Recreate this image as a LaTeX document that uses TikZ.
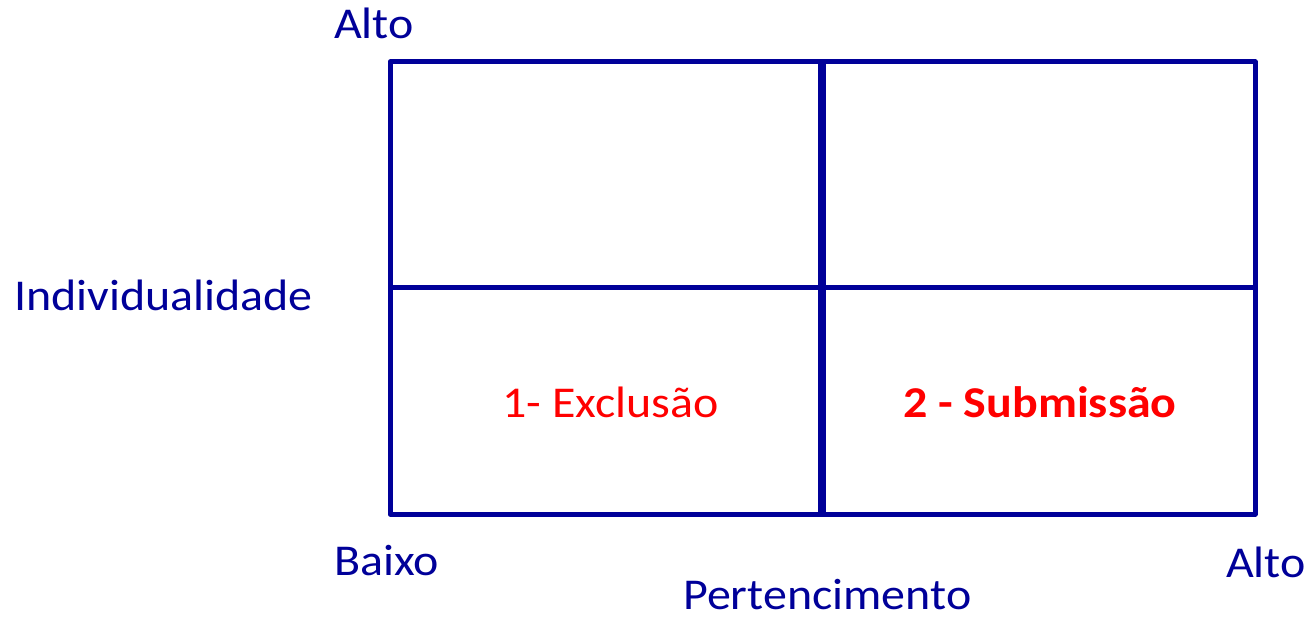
\documentclass[tikz,border=0pt]{standalone}
\usepackage{fontspec}
\setmainfont{Carlito}
\definecolor{nblue}{HTML}{000099}
\definecolor{nred}{HTML}{FF0000}
\newcommand{\wide}[1]{\scalebox{1.09}[1]{#1}}
\begin{document}
\begin{tikzpicture}[x=1pt,y=-1pt,
  lbl/.style={inner sep=0pt,anchor=base west,text=nblue,font=\fontsize{44}{50}\selectfont},
  cell/.style={inner sep=0pt,anchor=base west,text=nred,font=\fontsize{44}{50}\selectfont},
  grid/.style={draw=nblue,line width=5pt}]
\useasboundingbox (0,0) rectangle (1308,617);
\coordinate (tl) at (390,62);
\coordinate (br) at (1255,514);
\coordinate (mt) at (822,62);
\coordinate (mb) at (822,514);
\coordinate (ml) at (390,288);
\coordinate (mr) at (1255,288);
\draw[grid,line join=round] (tl) rectangle (br);
\draw[grid] (ml) -- (mr);
\draw[grid,line width=8pt] (mt) -- (mb);
\node[lbl] (altoy) at (334,39) {\wide{Alto}};
\node[lbl] (indiv) at (14,311) {\wide{Individualidade}};
\node[lbl] (baixo) at (334,575) {\wide{Baixo}};
\node[lbl] (altox) at (1226,577) {\wide{Alto}};
\node[lbl] (pert) at (683,609) {\wide{Pertencimento}};
\node[cell] (excl) at (502,417) {\wide{1- Exclusão}};
\node[cell,font=\fontsize{44}{50}\selectfont\bfseries] (subm) at (903,417) {\wide{2 - Submissão}};
\end{tikzpicture}
\end{document}
